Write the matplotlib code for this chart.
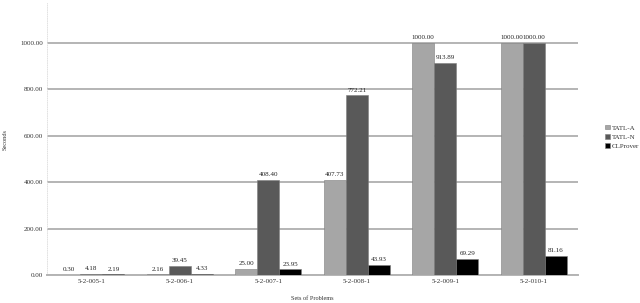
import numpy as np
import matplotlib.pyplot as plt

plt.rcParams['font.family'] = ['Liberation Serif', 'DejaVu Serif']

# Data
problems = ["5-2-005-1", "5-2-006-1", "5-2-007-1", "5-2-008-1", "5-2-009-1", "5-2-010-1"]
tatl_a = [0.30, 2.16, 25.00, 407.73, 1000.00, 1000.00]
tatl_n = [4.18, 39.45, 408.40, 772.21, 913.89, 1000.00]
clprover = [2.19, 4.33, 23.95, 43.93, 69.29, 81.16]

series = [("TATL-A", tatl_a, "#a6a6a6"),
          ("TATL-N", tatl_n, "#595959"),
          ("CLProver", clprover, "#000000")]

fig = plt.figure(figsize=(6.4, 3.03), dpi=100)
ax = fig.add_axes([47 / 640, 28 / 303, 531 / 640, 272 / 303])

x = np.arange(len(problems))
w = 0.25
for i, (name, vals, col) in enumerate(series):
    bars = ax.bar(x + (i - 1) * w, vals, w, color=col, label=name,
                  edgecolor="#7f7f7f", linewidth=0.4, zorder=3)
    for b, v in zip(bars, vals):
        ax.text(b.get_x() + b.get_width() / 2, v + 12, f"{v:.2f}",
                ha="center", va="bottom", fontsize=5, color="#222222")

ax.set_xlim(-0.5, len(problems) - 0.5)
ax.set_ylim(0, 1170)
ax.set_yticks([0, 200, 400, 600, 800, 1000])
ax.set_yticklabels([f"{t:.2f}" for t in [0, 200, 400, 600, 800, 1000]])
ax.set_xticks(x)
ax.set_xticklabels(problems)
ax.tick_params(axis="both", length=0, labelsize=5, colors="#333333", pad=3)
ax.yaxis.grid(True, color="#b4b4b4", linewidth=1.4, zorder=0)
ax.set_axisbelow(True)

for s in ["top", "right"]:
    ax.spines[s].set_visible(False)
ax.spines["left"].set_color("#dddddd")
ax.spines["left"].set_linestyle(":")
ax.spines["left"].set_linewidth(0.6)
ax.spines["bottom"].set_color("#b4b4b4")
ax.spines["bottom"].set_linewidth(1.4)

fig.text(5 / 640, 1 - 140 / 303, "Seconds", rotation=90, ha="center", va="center",
         fontsize=4.5, color="#333333")
fig.text(312 / 640, 1 - 299 / 303, "Sets of Problems", ha="center", va="center",
         fontsize=4.5, color="#333333")

leg = fig.legend(loc="center left", bbox_to_anchor=(602 / 640, 1 - 137 / 303),
                 frameon=False, fontsize=5, handlelength=0.6, handleheight=0.6,
                 handletextpad=0.3, labelspacing=0.5, borderpad=0)
for t in leg.get_texts():
    t.set_color("#333333")

fig.savefig("out.png", dpi=100)
